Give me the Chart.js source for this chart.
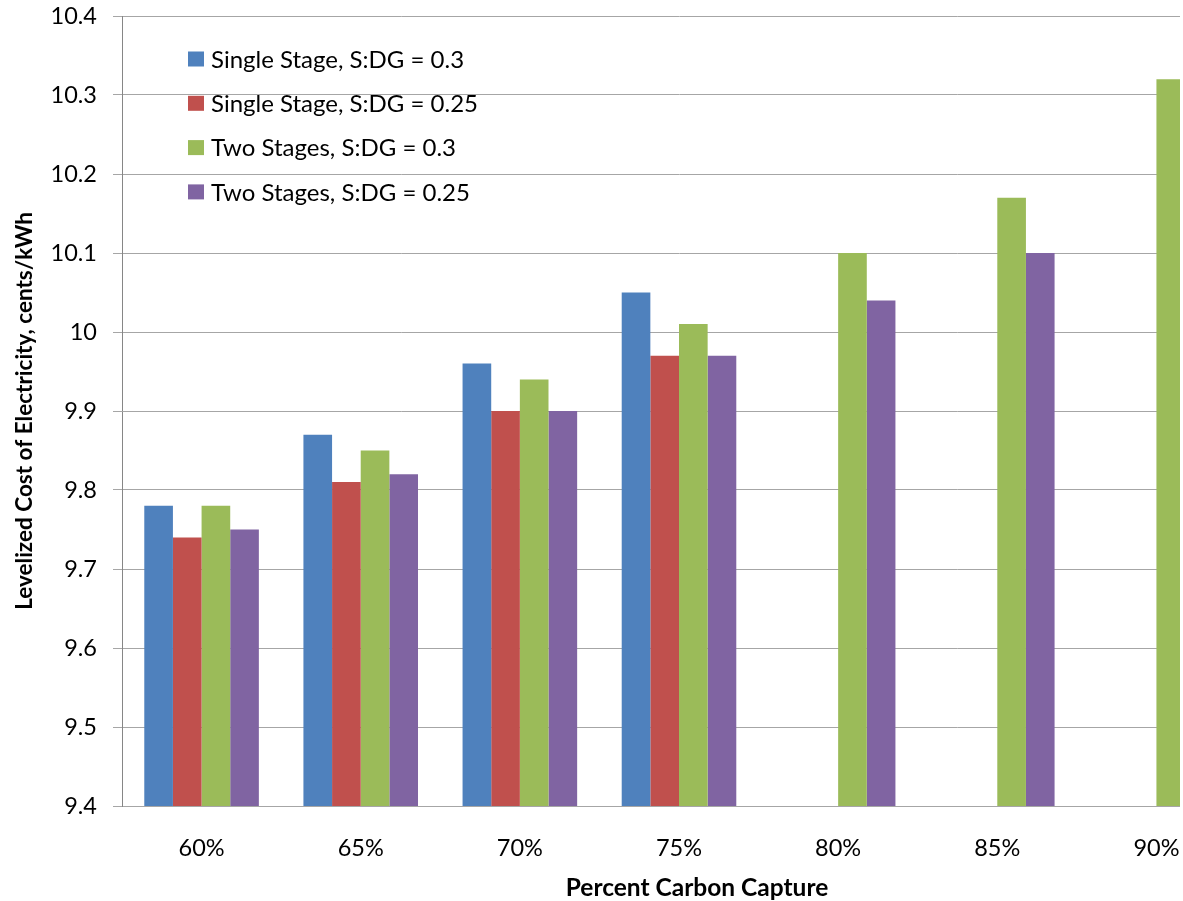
<!DOCTYPE html>
<html>
<head>
<meta charset="utf-8">
<title>Levelized Cost of Electricity vs Percent Carbon Capture</title>
<script src="https://cdn.jsdelivr.net/npm/chart.js@4.4.1/dist/chart.umd.min.js"></script>
<style>
  html, body { margin: 0; padding: 0; background: #fff; overflow: hidden; }
  #wrap { width: 1180px; height: 901px; overflow: hidden; }
  canvas { display: block; }
</style>
</head>
<body>
<div id="wrap"><canvas id="lcoe" width="1240" height="901"></canvas></div>
<script>
'use strict';

// chart data

let captureLevels = ['60%', '65%', '70%', '75%', '80%', '85%', '90%'];
let seriesNames = [
  'Single Stage, S:DG = 0.3',
  'Single Stage, S:DG = 0.25',
  'Two Stages, S:DG = 0.3',
  'Two Stages, S:DG = 0.25'
];
let singleStage30 = [9.78, 9.87, 9.96, 10.05, null, null, null];
let singleStage25 = [9.74, 9.81, 9.90, 9.97, null, null, null];
let twoStages30 = [9.78, 9.85, 9.94, 10.01, 10.10, 10.17, 10.32];
let twoStages25 = [9.75, 9.82, 9.90, 9.97, 10.04, 10.10, null];
let seriesColors = ['#4f81bd', '#c0504d', '#9bbb59', '#8064a2'];

let yMin = 9.4;
let yMax = 10.4;
let yStep = 0.1;

let xTitle = 'Percent Carbon Capture';
let yTitle = 'Levelized Cost of Electricity, cents/kWh';

let fontFamily = 'Lato, "Open Sans", sans-serif';

// legend drawn inside the plot, top left, no box
let insideLegend = {
  id: 'insideLegend',
  afterDraw(chart) {
    let ctx = chart.ctx;
    let area = chart.chartArea;
    ctx.save();
    ctx.font = '24px ' + fontFamily;
    ctx.textBaseline = 'middle';
    ctx.textAlign = 'left';
    chart.data.datasets.forEach(function (ds, i) {
      let y = area.top + 43 + i * 44.3;
      ctx.fillStyle = ds.backgroundColor;
      ctx.fillRect(area.left + 66, y - 7.5, 16, 15);
      ctx.fillStyle = '#000';
      ctx.fillText(ds.label, area.left + 89, y + 1);
    });
    ctx.restore();
  }
};

// x axis title sits a little right of the plot centre
let xAxisTitle = {
  id: 'xAxisTitle',
  afterDraw(chart) {
    let ctx = chart.ctx;
    let area = chart.chartArea;
    ctx.save();
    ctx.font = 'bold 24.5px ' + fontFamily;
    ctx.textBaseline = 'middle';
    ctx.textAlign = 'center';
    ctx.fillStyle = '#000';
    ctx.fillText(xTitle, (area.left + area.right) / 2 + 18, area.bottom + 82);
    ctx.restore();
  }
};

function makeDataset(i, values) {
  return {
    label: seriesNames[i],
    data: values,
    backgroundColor: seriesColors[i],
    borderWidth: 0,
    categoryPercentage: 0.72,
    barPercentage: 1.0
  };
}

let ctx = document.getElementById('lcoe').getContext('2d');

let lcoeChart = new Chart(ctx, {
  type: 'bar',
  data: {
    labels: captureLevels,
    datasets: [
      makeDataset(0, singleStage30),
      makeDataset(1, singleStage25),
      makeDataset(2, twoStages30),
      makeDataset(3, twoStages25)
    ]
  },
  options: {
    responsive: false,
    animation: false,
    devicePixelRatio: 1,
    layout: { padding: { top: 16, right: 4, left: 0, bottom: 0 } },
    plugins: {
      legend: { display: false },
      tooltip: { enabled: false }
    },
    scales: {
      x: {
        grid: { display: false, drawTicks: false },
        border: { color: '#a6a6a6', width: 1 },
        ticks: {
          color: '#000',
          padding: 28,
          font: { family: fontFamily, size: 23.5 }
        },
        afterFit: function (scale) { scale.height = 95; }
      },
      y: {
        min: yMin,
        max: yMax,
        grid: { color: '#a6a6a6', tickLength: 9, lineWidth: 1 },
        border: { color: '#868686', width: 1 },
        ticks: {
          stepSize: yStep,
          color: '#000',
          padding: 16,
          font: { family: fontFamily, size: 23.5 },
          callback: function (value) {
            return String(Number(value.toFixed(1)));
          }
        },
        title: {
          display: true,
          text: yTitle,
          color: '#000',
          padding: { top: 11, bottom: 0 },
          font: { family: fontFamily, size: 22.5, weight: 'bold' }
        },
        afterFit: function (scale) {
          scale.width = 122;
          // the layout padding already leaves room for the end labels
          scale.paddingTop = 0;
          scale.paddingBottom = 0;
        }
      }
    }
  },
  plugins: [insideLegend, xAxisTitle]
});

console.log(lcoeChart.chartArea);
</script>
</body>
</html>
